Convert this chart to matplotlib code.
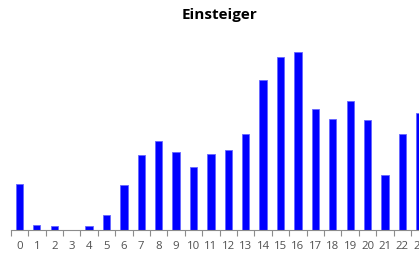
import matplotlib
matplotlib.use("Agg")
import matplotlib.pyplot as plt
import numpy as np

title = "Einsteiger"
hours = [str(h) for h in range(24)]
values = [45.7, 4.4, 3.7, 0, 3.7, 14.7, 45, 74.7, 88.7, 77.4, 62.4, 75.7,
          80, 96, 149.4, 172.4, 177.4, 120.7, 110.4, 128.7, 109.7, 54.4, 95.4, 117]

W, H = 419, 254
fig = plt.figure(figsize=(W / 100, H / 100), dpi=100)
left_px, base_px, cat_px = 10.7, 229.7, 17.41
ax = fig.add_axes([left_px / W, (H - base_px) / H, 24 * cat_px / W, 200 / H])

x = np.arange(len(hours))
ax.bar(x, values, width=0.42, color="#0000FF", edgecolor="#6666ff", linewidth=0.6)
ax.set_xlim(-0.5, 23.5)
ax.set_ylim(0, 200)

for s in ["top", "right", "left"]:
    ax.spines[s].set_visible(False)
ax.spines["bottom"].set_color("#8c8c8c")
ax.spines["bottom"].set_linewidth(0.8)
ax.set_yticks([])

ax.set_xticks(np.arange(-0.5, 24, 1))
ax.set_xticklabels([])
ax.tick_params(axis="x", which="major", length=4, color="#8c8c8c", width=0.8)
ax.set_xticks(x, minor=True)
ax.set_xticklabels(hours, minor=True, fontsize=8.2, color="#505050", family="Open Sans")
ax.tick_params(axis="x", which="minor", length=0, pad=8)

fig.text(219 / W, 1 - 15 / H, title, ha="center", va="center",
         fontsize=11, fontweight="bold", family="Open Sans", color="#000000")

fig.savefig("out.png", dpi=100)
